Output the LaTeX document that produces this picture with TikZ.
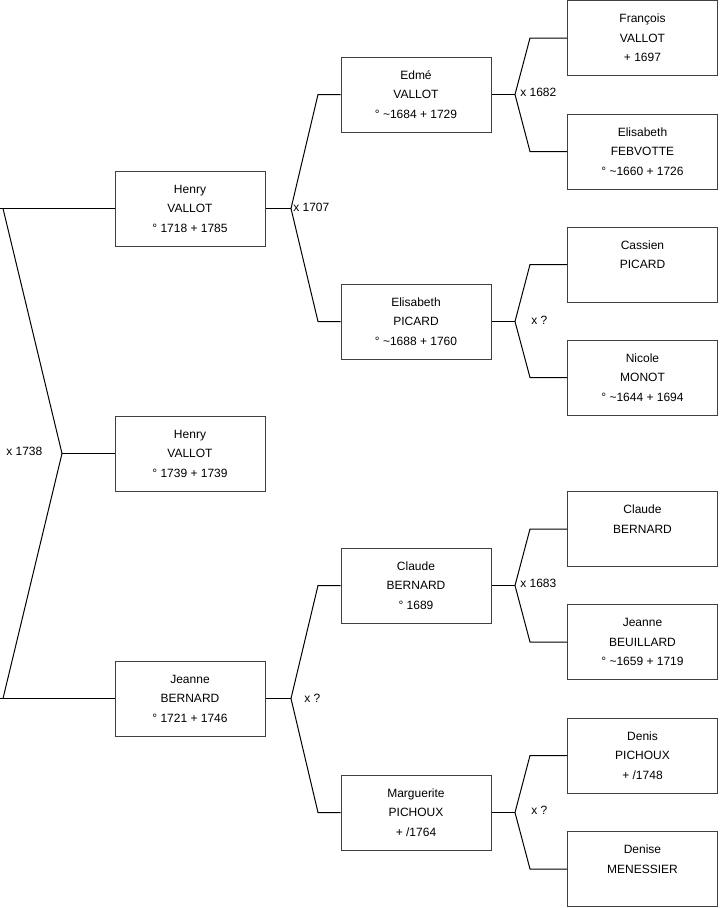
\documentclass[tikz,border=0pt]{standalone}
\usepackage{fontspec}
\setmainfont{Liberation Sans}
\newcommand{\tl}{\textasciitilde}
\begin{document}
\begin{tikzpicture}[x=0.75pt,y=-0.75pt,
  pbox/.style={draw=black!75,line width=0.75pt,minimum width=112.5pt,minimum height=56.25pt,inner sep=0pt,align=center,font=\fontsize{9}{14.6}\selectfont},
  conn/.style={draw=black,line width=0.75pt},
  mlabel/.style={anchor=west,inner sep=0pt,font=\fontsize{9}{11}\selectfont}]
\useasboundingbox (0,0) rectangle (719,908);
% column 1
\node[pbox] (henry1) at (190,208.5) {Henry\\VALLOT\\° 1718 + 1785};
\node[pbox] (henry2) at (190,453.5) {Henry\\VALLOT\\° 1739 + 1739};
\node[pbox] (jeanne) at (190,698.5) {Jeanne\\BERNARD\\° 1721 + 1746};
% column 2
\node[pbox] (edme) at (416,94.5) {Edmé\\VALLOT\\° \tl 1684 + 1729};
\node[pbox] (episard) at (416,321.5) {Elisabeth\\PICARD\\° \tl 1688 + 1760};
\node[pbox] (claude) at (416,585.5) {Claude\\BERNARD\\° 1689};
\node[pbox] (marg) at (416,812.5) {Marguerite\\PICHOUX\\+ /1764};
% column 3
\node[pbox] (francois) at (642.5,38) {François\\VALLOT\\+ 1697};
\node[pbox] (febvotte) at (642.5,151.5) {Elisabeth\\FEBVOTTE\\° \tl 1660 + 1726};
\node[pbox] (cassien) at (642.5,264.5) {Cassien\\PICARD\\\mbox{}};
\node[pbox] (nicole) at (642.5,377.5) {Nicole\\MONOT\\° \tl 1644 + 1694};
\node[pbox] (claude2) at (642.5,529) {Claude\\BERNARD\\\mbox{}};
\node[pbox] (beuil) at (642.5,642) {Jeanne\\BEUILLARD\\° \tl 1659 + 1719};
\node[pbox] (denis) at (642.5,755.5) {Denis\\PICHOUX\\+ /1748};
\node[pbox] (denise) at (642.5,869) {Denise\\MENESSIER\\\mbox{}};
% junctions
\coordinate (j0) at (62,453.5);
\coordinate (j1) at (291,208.5);
\coordinate (j2) at (291,698.5);
\coordinate (j3) at (515,94.5);
\coordinate (j4) at (515,321.5);
\coordinate (j5) at (515,585.5);
\coordinate (j6) at (515,812.5);
% root
\draw[conn] (henry1.west) -- (0,208.5);
\draw[conn] (jeanne.west) -- (0,698.5);
\draw[conn] (3,208.5) -- (j0) -- (3,698.5);
\draw[conn] (j0) -- (henry2.west);
\node[mlabel] (l0) at (6,451) {x 1738};
% level 1
\draw[conn] (henry1.east) -- (j1);
\draw[conn] (edme.west) -- (318,94.5) -- (j1) -- (318,321.5) -- (episard.west);
\node[mlabel] (l1) at (293,207) {x 1707};
\draw[conn] (jeanne.east) -- (j2);
\draw[conn] (claude.west) -- (318,585.5) -- (j2) -- (318,812.5) -- (marg.west);
\node[mlabel] (l2) at (304,698) {x ?};
% level 2
\draw[conn] (edme.east) -- (j3);
\draw[conn] (francois.west) -- (530,38) -- (j3) -- (530,151.5) -- (febvotte.west);
\node[mlabel] (l3) at (520,92) {x 1682};
\draw[conn] (episard.east) -- (j4);
\draw[conn] (cassien.west) -- (530,264.5) -- (j4) -- (530,377.5) -- (nicole.west);
\node[mlabel] (l4) at (531,320) {x ?};
\draw[conn] (claude.east) -- (j5);
\draw[conn] (claude2.west) -- (530,529) -- (j5) -- (530,642) -- (beuil.west);
\node[mlabel] (l5) at (520,583) {x 1683};
\draw[conn] (marg.east) -- (j6);
\draw[conn] (denis.west) -- (530,755.5) -- (j6) -- (530,869) -- (denise.west);
\node[mlabel] (l6) at (531,810) {x ?};
\end{tikzpicture}
\end{document}
